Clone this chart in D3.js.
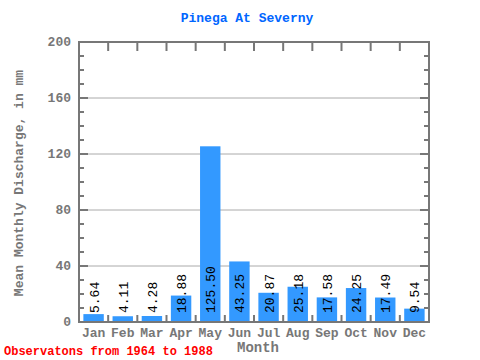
<!DOCTYPE html>
<html><head><meta charset="utf-8">
<script src="https://cdn.jsdelivr.net/npm/d3@7"></script>
<style>body{margin:0;background:#fff}svg{display:block}</style>
</head><body>
<script>
const months = ["Jan","Feb","Mar","Apr","May","Jun","Jul","Aug","Sep","Oct","Nov","Dec"];
const values = [5.64,4.11,4.28,18.88,125.50,43.25,20.87,25.18,17.58,24.25,17.49,9.54];
const yTicks = [0,40,80,120,160,200];
const titleText = "Pinega At Severny";
const yLabel = "Mean Monthly Discharge, in mm";
const xLabel = "Month";
const note = "Observatons from 1964 to 1988";

const W=480,H=360, L=79, R=429, T=42, B=322;
const font = "'Liberation Mono','DejaVu Sans Mono',monospace";
const grey = "#777";
const svg = d3.select("body").append("svg").attr("width",W).attr("height",H);
const x = d3.scaleBand().domain(months).range([L,R]).paddingInner(0.3).paddingOuter(0.15);
const xs = d3.scaleBand().domain(months).range([L,R]);
const y = d3.scaleLinear().domain([0,200]).range([B,T]);

// gridlines
svg.selectAll("line.grid").data(yTicks.filter(d=>d>0&&d<200)).enter().append("line")
  .attr("x1",L).attr("x2",R).attr("y1",d=>y(d)).attr("y2",d=>y(d))
  .attr("stroke","#aaa").attr("stroke-width",1);

// bars
svg.selectAll("rect.bar").data(values).enter().append("rect")
  .attr("x",(d,i)=>x(months[i])).attr("width",x.bandwidth())
  .attr("y",d=>y(d)).attr("height",d=>B-y(d)).attr("fill","#3399ff");

// minor ticks
const minor = d3.range(10,200,10);
minor.forEach(v=>{
  const len = (v%40===0)?9:5;
  svg.append("line").attr("x1",L).attr("x2",L+len).attr("y1",y(v)).attr("y2",y(v)).attr("stroke",grey).attr("stroke-width",2);
  svg.append("line").attr("x1",R).attr("x2",R-len).attr("y1",y(v)).attr("y2",y(v)).attr("stroke",grey).attr("stroke-width",2);
});
// month boundary ticks
months.slice(1).forEach(m=>{
  const xx = xs(m);
  svg.append("line").attr("x1",xx).attr("x2",xx).attr("y1",T).attr("y2",T+9).attr("stroke",grey).attr("stroke-width",2);
  svg.append("line").attr("x1",xx).attr("x2",xx).attr("y1",B).attr("y2",B-7).attr("stroke",grey).attr("stroke-width",2);
});
// frame
svg.append("rect").attr("x",L).attr("y",T).attr("width",R-L).attr("height",B-T)
  .attr("fill","none").attr("stroke",grey).attr("stroke-width",2);

// y tick labels
svg.selectAll("text.yt").data(yTicks).enter().append("text")
  .attr("x",71).attr("y",d=>y(d)+4).attr("text-anchor","end")
  .attr("font-family",font).attr("font-weight","bold").attr("font-size",13).attr("fill",grey)
  .text(d=>d);

// x tick labels
svg.selectAll("text.xt").data(months).enter().append("text")
  .attr("x",d=>xs(d)+xs.bandwidth()/2).attr("y",337).attr("text-anchor","middle")
  .attr("font-family",font).attr("font-weight","bold").attr("font-size",13).attr("fill",grey)
  .text(d=>d);

// value labels
svg.selectAll("text.val").data(values).enter().append("text")
  .attr("transform",(d,i)=>`translate(${x(months[i])+x.bandwidth()/2+5},313) rotate(-90)`)
  .attr("font-family",font).attr("font-size",13).attr("fill","#000")
  .text(d=>d.toFixed(2));

// title
svg.append("text").attr("x",247).attr("y",22).attr("text-anchor","middle")
  .attr("font-family",font).attr("font-weight","bold").attr("font-size",13).attr("fill","#0066ff")
  .text(titleText);
// y label
svg.append("text").attr("transform","translate(23,183) rotate(-90)").attr("text-anchor","middle")
  .attr("font-family",font).attr("font-weight","bold").attr("font-size",13).attr("fill",grey)
  .text(yLabel);
// x label
svg.append("text").attr("x",258).attr("y",352).attr("text-anchor","middle")
  .attr("font-family",font).attr("font-weight","bold").attr("font-size",14).attr("fill",grey)
  .text(xLabel);
// note
svg.append("text").attr("x",4).attr("y",355)
  .attr("font-family",font).attr("font-weight","bold").attr("font-size",12).attr("fill","#ff0000")
  .text(note);
</script>
</body></html>
